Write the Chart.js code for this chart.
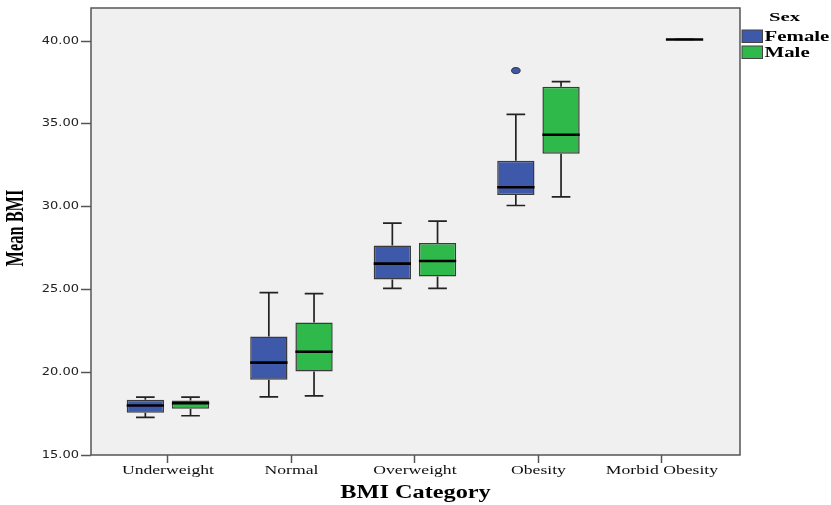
<!DOCTYPE html>
<html><head><meta charset="utf-8">
<script src="https://cdn.jsdelivr.net/npm/chart.js@4/dist/chart.umd.min.js"></script>
<style>html,body{margin:0;padding:0;background:#fff;} canvas{display:block;}</style>
</head><body>
<canvas id="c" width="831" height="505"></canvas>
<script>
const categories = ['Underweight', 'Normal', 'Overweight', 'Obesity', 'Morbid Obesity'];
const seriesNames = ['Female', 'Male'];
const femaleMin      = [17.27, 18.51, 25.07, 30.07, null];
const femaleQ1       = [17.55, 19.55, 25.60, 30.71, null];
const femaleMedian   = [17.99, 20.58, 26.56, 31.17, null];
const femaleQ3       = [18.33, 22.16, 27.66, 32.78, null];
const femaleMax      = [18.49, 24.81, 29.00, 35.57, null];
const femaleOutliers = [[], [], [], [38.22], []];
const maleMin        = [17.37, 18.57, 25.07, 30.59, 40.10];
const maleQ1         = [17.79, 20.04, 25.78, 33.20, 40.10];
const maleMedian     = [18.13, 21.24, 26.72, 34.34, 40.10];
const maleQ3         = [18.29, 23.01, 27.80, 37.25, 40.10];
const maleMax        = [18.49, 24.75, 29.13, 37.55, 40.10];
const maleOutliers   = [[], [], [], [], []];
const yTicks = [15, 20, 25, 30, 35, 40];

const COLORS = ['#3e58aa', '#2eb94a'];
const LABEL_STRETCH = { x: 1.47, y: 1.3 };

// Linear scale whose tick labels are drawn horizontally stretched (like the reference export)
class StretchLinear extends Chart.LinearScale {
  drawLabels(chartArea) {
    const ctx = this.ctx;
    const sx = LABEL_STRETCH[this.id] || 1;
    for (const item of this.getLabelItems(chartArea)) {
      const o = item.options;
      ctx.save();
      ctx.translate(o.translation[0], o.translation[1]);
      ctx.scale(sx, 1);
      ctx.font = item.font.string;
      ctx.fillStyle = o.color;
      ctx.textAlign = o.textAlign;
      ctx.textBaseline = o.textBaseline;
      ctx.fillText(item.label, 0, item.textOffset);
      ctx.restore();
    }
  }
}
StretchLinear.id = 'stretchLinear';
StretchLinear.defaults = Chart.LinearScale.defaults;
Chart.register(StretchLinear);

function makeDataset(name, color, mn, q1, med, q3, mx, out) {
  return {
    label: name,
    data: categories.map((c, i) => ({ x: i, y: q1[i] == null ? null : [q1[i], q3[i]] })),
    stats: categories.map((c, i) => q1[i] == null ? null :
      { min: mn[i], q1: q1[i], med: med[i], q3: q3[i], max: mx[i], out: out[i] }),
    backgroundColor: color,
    borderColor: '#3a3a3a',
    borderWidth: 1.5,
    borderSkipped: false,
    categoryPercentage: 0.732,
    barPercentage: 0.825
  };
}

const datasets = [
  makeDataset(seriesNames[0], COLORS[0], femaleMin, femaleQ1, femaleMedian, femaleQ3, femaleMax, femaleOutliers),
  makeDataset(seriesNames[1], COLORS[1], maleMin, maleQ1, maleMedian, maleQ3, maleMax, maleOutliers)
];

function eachBox(chart, fn) {
  chart.data.datasets.forEach((ds, di) => {
    const meta = chart.getDatasetMeta(di);
    ds.stats.forEach((st, i) => {
      if (!st) return;
      const el = meta.data[i];
      if (!el) return;
      fn(ds, st, el);
    });
  });
}

function stretchedText(ctx, text, x, y, font, sx, align) {
  ctx.save();
  ctx.translate(x, y);
  ctx.scale(sx, 1);
  ctx.font = font;
  ctx.textAlign = align;
  ctx.fillText(text, 0, 0);
  ctx.restore();
}

const boxPlugin = {
  id: 'boxplot',
  beforeDraw(chart) {
    const { ctx, chartArea: a } = chart;
    ctx.save();
    ctx.fillStyle = '#f0f0f0';
    ctx.fillRect(a.left, a.top, a.right - a.left, a.bottom - a.top);
    ctx.restore();
  },
  beforeDatasetsDraw(chart) {
    const { ctx } = chart;
    const y = chart.scales.y;
    ctx.save();
    ctx.strokeStyle = '#222';
    ctx.lineWidth = 1.7;
    eachBox(chart, (ds, st, el) => {
      const x = el.x, hw = el.width / 4;
      const pMin = y.getPixelForValue(st.min), pMax = y.getPixelForValue(st.max);
      const pQ1 = y.getPixelForValue(st.q1), pQ3 = y.getPixelForValue(st.q3);
      ctx.beginPath();
      ctx.moveTo(x, pQ3); ctx.lineTo(x, pMax);
      ctx.moveTo(x, pQ1); ctx.lineTo(x, pMin);
      ctx.moveTo(x - hw, pMax); ctx.lineTo(x + hw, pMax);
      ctx.moveTo(x - hw, pMin); ctx.lineTo(x + hw, pMin);
      ctx.stroke();
    });
    ctx.restore();
  },
  afterDatasetsDraw(chart) {
    const { ctx } = chart;
    const y = chart.scales.y;
    ctx.save();
    eachBox(chart, (ds, st, el) => {
      const x = el.x, hw = el.width / 2;
      const pMed = y.getPixelForValue(st.med);
      ctx.strokeStyle = '#000';
      ctx.lineWidth = 2.6;
      ctx.beginPath();
      ctx.moveTo(x - hw, pMed); ctx.lineTo(x + hw, pMed);
      ctx.stroke();
      st.out.forEach(v => {
        const py = y.getPixelForValue(v);
        ctx.beginPath();
        ctx.ellipse(x, py, 4.3, 3, 0, 0, Math.PI * 2);
        ctx.fillStyle = ds.backgroundColor;
        ctx.fill();
        ctx.strokeStyle = '#333';
        ctx.lineWidth = 1;
        ctx.stroke();
      });
    });
    ctx.restore();
  },
  afterDraw(chart) {
    const { ctx, chartArea: a } = chart;
    ctx.save();
    ctx.strokeStyle = '#555';
    ctx.lineWidth = 1.5;
    ctx.strokeRect(a.left, a.top, a.right - a.left, a.bottom - a.top);

    ctx.fillStyle = '#000';
    ctx.textBaseline = 'alphabetic';
    // x axis title
    stretchedText(ctx, 'BMI Category', (a.left + a.right) / 2, 498, 'bold 18px "Liberation Serif"', 1.35, 'center');

    // y axis title (condensed)
    ctx.save();
    ctx.translate(16.5, 228);
    ctx.rotate(-Math.PI / 2);
    ctx.scale(0.63, 1);
    ctx.font = 'bold 26px "Liberation Serif"';
    ctx.textAlign = 'center';
    ctx.textBaseline = 'middle';
    ctx.fillText('Mean BMI', 0, 0);
    ctx.restore();

    // legend
    stretchedText(ctx, 'Sex', 769, 21, 'bold 13px "Liberation Serif"', 1.6, 'left');
    const rows = [[30, 41], [46, 56.5]];
    chart.data.datasets.forEach((ds, i) => {
      const [top, base] = rows[i];
      ctx.fillStyle = ds.backgroundColor;
      ctx.fillRect(742, top, 20.5, 12.5);
      ctx.strokeStyle = '#444';
      ctx.lineWidth = 1;
      ctx.strokeRect(742, top, 20.5, 12.5);
      ctx.fillStyle = '#000';
      stretchedText(ctx, ds.label, 764.5, base, 'bold 14px "Liberation Serif"', 1.49, 'left');
    });
    ctx.restore();
  }
};

new Chart(document.getElementById('c'), {
  type: 'bar',
  data: { datasets },
  options: {
    responsive: false,
    animation: false,
    devicePixelRatio: 1,
    layout: { padding: { top: 4, right: 91, left: 0, bottom: 0 } },
    plugins: { legend: { display: false }, tooltip: { enabled: false } },
    scales: {
      x: {
        type: 'stretchLinear',
        min: -0.623,
        max: 4.632,
        offset: false,
        afterBuildTicks: s => { s.ticks = categories.map((c, i) => ({ value: i })); },
        afterFit: s => { s.height = 50; },
        ticks: {
          callback: v => categories[v],
          autoSkip: false,
          maxRotation: 0,
          padding: 1,
          color: '#111',
          font: { family: 'Liberation Serif', size: 12 }
        },
        grid: { display: true, drawOnChartArea: false, drawTicks: true, tickLength: 8, offset: false, tickColor: '#555', tickWidth: 1.5 },
        border: { display: false }
      },
      y: {
        type: 'stretchLinear',
        min: 15,
        max: 42,
        afterBuildTicks: s => { s.ticks = yTicks.map(v => ({ value: v })); },
        afterFit: s => { s.width = 91; },
        ticks: {
          callback: v => Number(v).toFixed(2),
          padding: 2,
          color: '#222',
          font: { family: 'DejaVu Sans', size: 10 }
        },
        grid: { display: true, drawOnChartArea: false, drawTicks: true, tickLength: 10, tickColor: '#555', tickWidth: 1.5 },
        border: { display: false }
      }
    }
  },
  plugins: [boxPlugin]
});
</script>
</body></html>
